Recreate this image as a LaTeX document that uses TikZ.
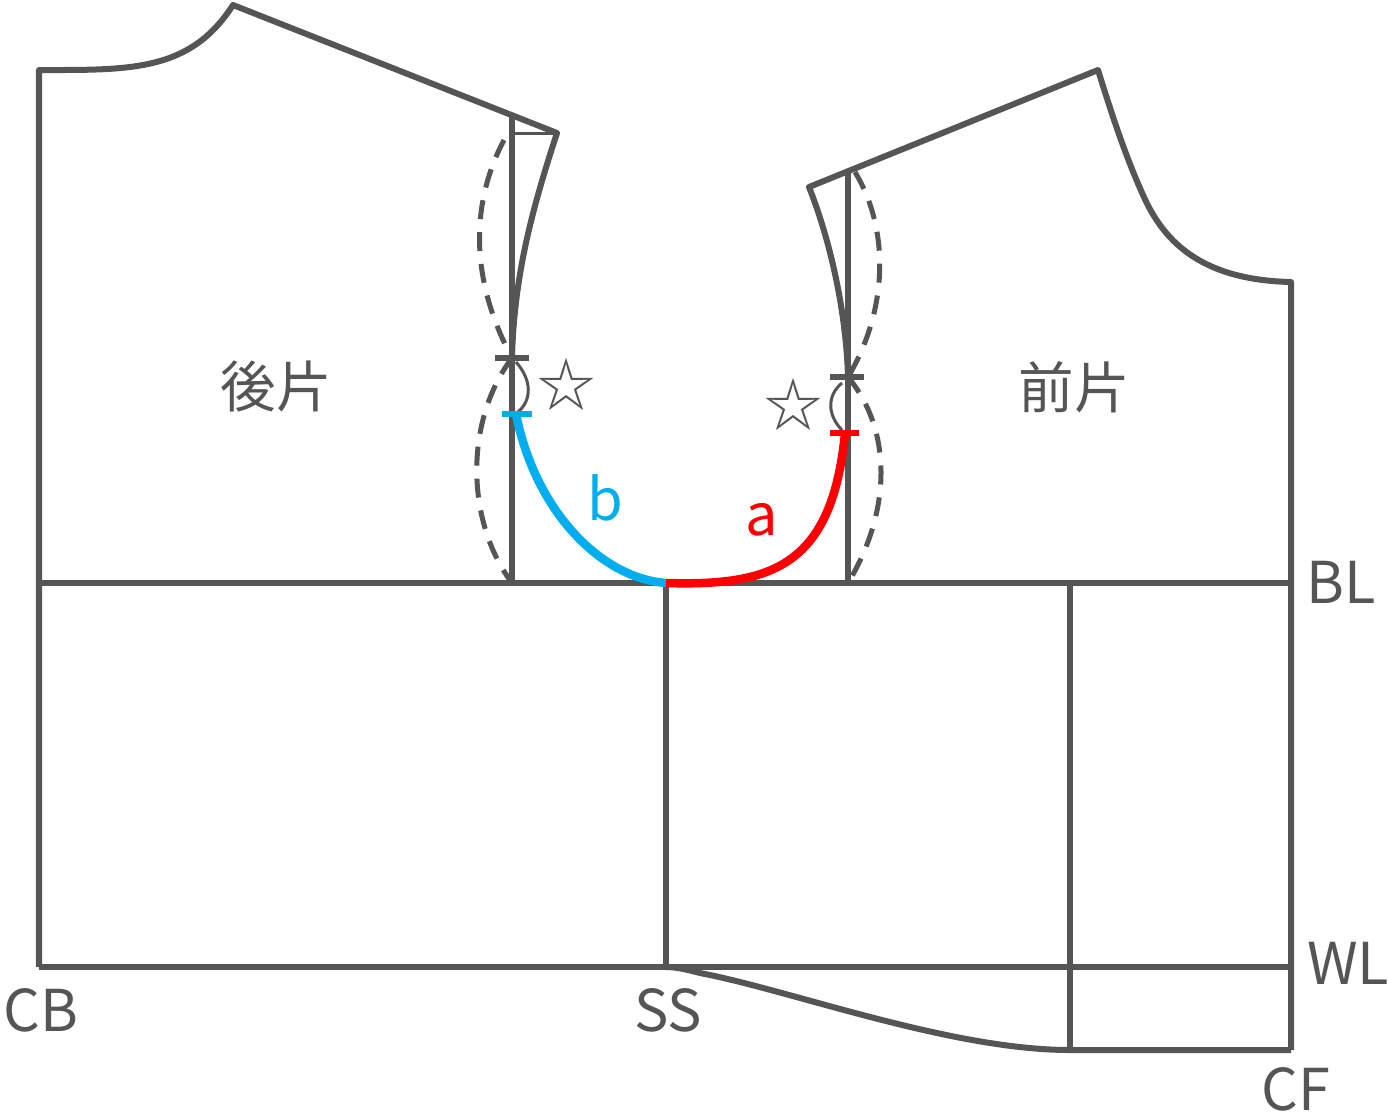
\documentclass[tikz,border=0pt]{standalone}
\usepackage{fontspec}
\setmainfont{Noto Sans CJK JP}
\usepackage{tikz}
\definecolor{patgray}{RGB}{85,85,85}
\definecolor{backblue}{RGB}{0,174,239}
\tikzset{
  pat/.style={draw=patgray, line width=0.06cm, line join=round},
  thinpat/.style={draw=patgray, line width=0.03cm},
  dashpat/.style={pat, line width=0.05cm, dash pattern=on 0.19cm off 0.13cm},
  lab/.style={text=patgray, inner sep=0pt, font=\fontsize{16.4pt}{18pt}\selectfont},
  kata/.style={text=patgray, inner sep=0pt, font=\fontsize{15.8pt}{18pt}\selectfont},
  starlab/.style={text=patgray, inner sep=0pt, font=\fontsize{16.5pt}{18pt}\selectfont},
}
\begin{document}
\begin{tikzpicture}[x=0.01cm, y=-0.01cm]
     \useasboundingbox (0,0) rectangle (1388,1117);
     \coordinate (CBtop) at (39,70);
     \coordinate (CBbust) at (39,583);
     \coordinate (CBwaist) at (39,967);
     \coordinate (BackNeck) at (233,5);
     \coordinate (BackShoulder) at (557,133);
     \coordinate (BackTop) at (512,116);
     \coordinate (BackBust) at (512,583);
     \coordinate (BackNotch) at (512,358);
     \coordinate (BackMark) at (516,414);
     \coordinate (SSbust) at (666,583);
     \coordinate (SSwaist) at (666,967);
     \coordinate (FrontTop) at (848,172);
     \coordinate (FrontBust) at (848,583);
     \coordinate (FrontNotch) at (848,377);
     \coordinate (FrontMark) at (845,433);
     \coordinate (FrontShoulder) at (809,187);
     \coordinate (FrontNeck) at (1098,70);
     \coordinate (CFtop) at (1291,282);
     \coordinate (CFbust) at (1291,583);
     \coordinate (CFwaist) at (1291,967);
     \coordinate (CFhem) at (1291,1050);
     \coordinate (DartBust) at (1070,583);
     \coordinate (DartHem) at (1070,1050);
     % frame
     \draw[pat] (BackBust) -- (BackTop);
     \draw[pat] (CBbust) -- (CFbust);
     \draw[pat] (CBwaist) -- (CFwaist);
     \draw[pat] (SSbust) -- (SSwaist);
     \draw[pat] (FrontBust) -- (FrontTop);
     \draw[pat] (DartBust) -- (DartHem);
     % back piece
     \draw[pat] (CBwaist) -- (CBtop)
        .. controls (130,70) and (190,72) .. (BackNeck)
        -- (BackShoulder)
        .. controls (530,215) and (514,280) .. (BackNotch);
     \draw[thinpat] (BackTop |- BackShoulder) -- (BackShoulder);
     % front piece
     \draw[pat] (CFhem) -- (CFtop)
        .. controls (1205,280) and (1165,245) .. (1143,195)
        .. controls (1125,155) and (1112,115) .. (FrontNeck)
        -- (FrontShoulder)
        .. controls (830,240) and (846,310) .. (FrontNotch);
     \draw[pat] (CFhem) -- (DartHem)
        .. controls (950,1050) and (790,990) .. (700,973)
        .. controls (685,969) and (675,967) .. (SSwaist);
     % dashed armholes
     \draw[dashpat] (504,140) .. controls (475,195) and (465,270) .. (BackNotch);
     \draw[dashpat] (BackNotch) .. controls (465,420) and (465,520) .. (BackBust);
     \draw[dashpat] (855,172) .. controls (890,230) and (888,310) .. (FrontNotch);
     \draw[dashpat] (FrontNotch) .. controls (892,430) and (892,510) .. (FrontBust);
     % notch marks
     \draw[pat] (495,358) -- (529,358);
     \draw[pat] (830,377) -- (864,377);
     \draw[thinpat] (516,362) .. controls (532,380) and (532,400) .. (518,412);
     \draw[thinpat] (842,383) .. controls (827,395) and (827,415) .. (842,430);
     % armhole
     \draw[line width=0.085cm, draw=backblue] (BackMark) .. controls (535,510) and (600,578) .. (SSbust);
     \draw[line width=0.085cm, draw=red] (SSbust) .. controls (770,586) and (832,568) .. (FrontMark);
     \draw[line width=0.055cm, draw=backblue] (502,414) -- (532,414);
     \draw[line width=0.055cm, draw=red] (830,433) -- (859,433);
     % labels
     \node[kata] (backlab) at (276,386) {後片};
     \node[kata] (frontlab) at (1074,387) {前片};
     \node[starlab] (backstar) at (567,385) {☆};
     \node[starlab] (frontstar) at (793,405) {☆};
     \node[lab, text=backblue] (blab) at (605,498) {b};
     \node[lab, text=red] (alab) at (762,520) {a};
     \node[lab] (BLlab) at (1341,582) {BL};
     \node[lab] (WLlab) at (1348,963) {WL};
     \node[lab] (CBlab) at (41,1010) {CB};
     \node[lab] (SSlab) at (668,1010) {SS};
     \node[lab] (CFlab) at (1296,1089) {CF};
\end{tikzpicture}
\end{document}
